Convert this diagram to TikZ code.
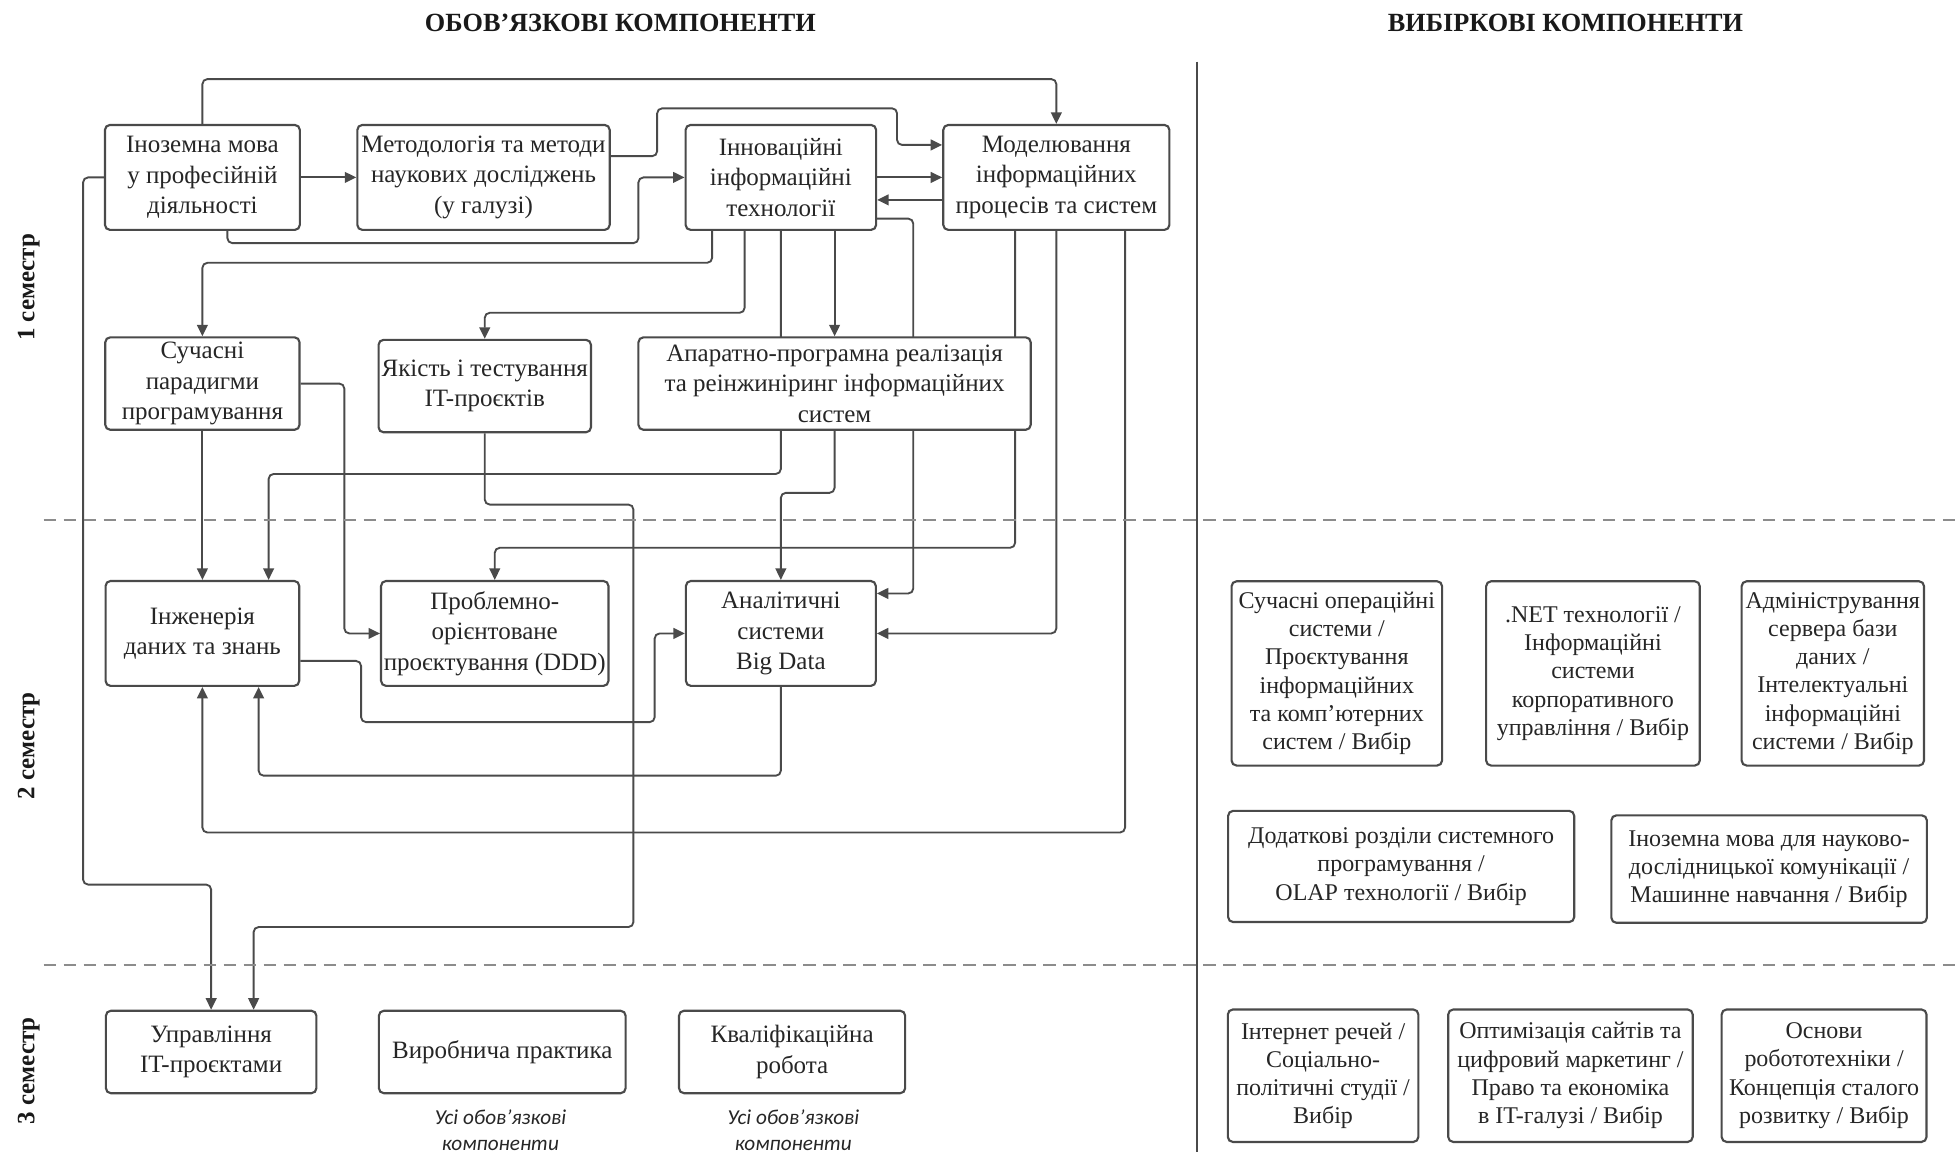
\documentclass[tikz,border=0pt]{standalone}
\usepackage{fontspec}
\setmainfont{Liberation Serif}
\newfontfamily\notefont{Carlito}
\usepackage{tikz}
\usetikzlibrary{arrows.meta,backgrounds}
\definecolor{linegray}{HTML}{4A4A4A}
\definecolor{dashgray}{HTML}{8C8C8C}

\begin{document}
\begin{tikzpicture}[x=.5pt, y=-.5pt,
		box/.style={draw=linegray, line width=.85pt, rounded corners=2pt, fill=white, align=center, inner sep=0pt, text=black!85, font=\fontsize{10}{12.2}\selectfont},
		optbox/.style={box, font=\fontsize{9.6}{11.3}\selectfont},
		arr/.style={draw=linegray, line width=.75pt, rounded corners=2pt, -{Triangle[length=4.6pt,width=4.3pt]}},
		sep/.style={draw=dashgray, line width=.8pt, dash pattern=on 5pt off 3pt},
		head/.style={text=black!90, font=\bfseries\fontsize{10.5}{12}\selectfont},
		sem/.style={rotate=90, text=black!90, font=\bfseries\fontsize{10}{12}\selectfont},
		note/.style={align=center, text=black!85, font=\notefont\itshape\fontsize{8.5}{10.5}\selectfont}]
	\useasboundingbox (0,0) rectangle (1568,922);
	\node[head] (head1) at (496.5,18) {ОБОВ’ЯЗКОВІ КОМПОНЕНТИ};
	\node[head] (head2) at (1253,18) {ВИБІРКОВІ КОМПОНЕНТИ};
	\node[sem] (sem1) at (23,230) {1 семестр};
	\node[sem] (sem2) at (23,597) {2 семестр};
	\node[sem] (sem3) at (23,857) {3 семестр};
	\foreach \y in {416,772.6} {
		\draw[sep] (35,\y) -- (1568,\y);
	}
	\draw[draw=linegray, line width=.75pt] (958.4,49.4) -- (958.4,922);
	
	\node[box, minimum width=78pt, minimum height=42pt] (inmova) at (162,142) {Іноземна мова\\у професійній\\діяльності};
	\node[box, minimum width=101pt, minimum height=42pt] (metod) at (387,142) {Методологія та методи\\наукових досліджень\\(у галузі)};
	\node[box, minimum width=76.25pt, minimum height=42pt] (innov) at (625,142) {Інноваційні\\інформаційні\\технології};
	\node[box, minimum width=90.5pt, minimum height=42pt] (model) at (845.5,142) {Моделювання\\інформаційних\\процесів та систем};
	\node[box, minimum width=77.75pt, minimum height=37pt] (parad) at (162,307) {Сучасні\\парадигми\\програмування};
	\node[box, minimum width=85pt, minimum height=37pt] (yakist) at (388,309) {Якість і тестування\\IT-проєктів};
	\node[box, minimum width=157pt, minimum height=37pt] (aparat) at (668,307) {Апаратно-програмна реалізація\\та реінжиніринг інформаційних\\систем};
	\node[box, minimum width=77.5pt, minimum height=42pt] (inzh) at (162,507) {Інженерія\\даних та знань};
	\node[box, minimum width=91pt, minimum height=42pt] (ddd) at (396,507) {Проблемно-\\орієнтоване\\проєктування (DDD)};
	\node[box, minimum width=76pt, minimum height=42pt] (bigdata) at (625,507) {Аналітичні\\системи\\Big Data};
	\node[box, minimum width=84.25pt, minimum height=33pt] (upr) at (169,842) {Управління\\IT-проєктами};
	\node[box, minimum width=98.75pt, minimum height=33pt] (prakt) at (402,842) {Виробнича практика};
	\node[box, minimum width=90.5pt, minimum height=33pt] (kvalif) at (634,842) {Кваліфікаційна\\робота};
	\node[note] (note1) at (400.5,904.5) {Усі обов’язкові\\компоненти};
	\node[note] (note2) at (635,904.5) {Усі обов’язкові\\компоненти};
	
	\node[optbox, minimum width=84.25pt, minimum height=73.75pt] (opt1) at (1070,539) {Сучасні операційні\\системи /\\Проєктування\\інформаційних\\та комп’ютерних\\систем / Вибір};
	\node[optbox, minimum width=85.5pt, minimum height=73.75pt] (opt2) at (1275,539) {.NET технології /\\Інформаційні\\системи\\корпоративного\\управління / Вибір};
	\node[optbox, minimum width=73pt, minimum height=73.75pt] (opt3) at (1467,539) {Адміністрування\\сервера бази\\даних /\\Інтелектуальні\\інформаційні\\системи / Вибір};
	\node[optbox, minimum width=138.5pt, minimum height=44.5pt] (opt4) at (1121.5,693.5) {Додаткові розділи системного\\програмування /\\OLAP технології / Вибір};
	\node[optbox, minimum width=126.25pt, minimum height=43pt] (opt5) at (1416,695.6) {Іноземна мова для науково-\\дослідницької комунікації /\\Машинне навчання / Вибір};
	\node[optbox, minimum width=76.25pt, minimum height=53pt] (opt6) at (1059,861) {Інтернет речей /\\Соціально-\\політичні студії /\\Вибір};
	\node[optbox, minimum width=97.85pt, minimum height=53pt] (opt7) at (1257,861) {Оптимізація сайтів та\\цифровий маркетинг /\\Право та економіка\\в IT-галузі / Вибір};
	\node[optbox, minimum width=82pt, minimum height=53pt] (opt8) at (1460,861) {Основи\\робототехніки /\\Концепція сталого\\розвитку / Вибір};
	
	\begin{scope}[on background layer]
		\draw[arr] (inmova.north) |- (845.5,63.3) -- (model.north);
		\draw[arr] (inmova.east) -- (metod.west);
		\draw[arr] ([yshift=8.5pt]metod.east) -| (526,86.7) -| (718,116) -- ([yshift=13pt]model.west);
		\draw[arr] ([xshift=10pt]inmova.south) |- (511,194.6) |- (innov.west);
		\draw[arr] (innov.east) -- (model.west);
		\draw[arr] ([yshift=-9pt]model.west) -- ([yshift=-9pt]innov.east);
		\draw[arr] ([xshift=-27.5pt]innov.south) -- ++(0,25.5) -| (parad.north);
		\draw[arr] ([xshift=-14.5pt]innov.south) -- ++(0,65.5) -| (yakist.north);
		\draw[arr] (innov.south) -- ++(0,194.5) -| ([xshift=26.5pt]inzh.north);
		\draw[arr] ([xshift=21.5pt]innov.south) -- (aparat.north);
		\draw[arr] ([yshift=-16.5pt]innov.east) -| (731,475) -- ([yshift=16pt]bigdata.east);
		\draw[arr] (aparat.south) -- ++(0,49.6) -| (bigdata.north);
		\draw[arr] ([xshift=-16.5pt]model.south) -- ++(0,253.6) -| (ddd.north);
		\draw[arr] (model.south) |- (bigdata.east);
		\draw[arr] ([xshift=27.5pt]model.south) -- ++(0,481.5) -| (inzh.south);
		\draw[arr] (parad.east) -- ++(35,0) |- (ddd.west);
		\draw[arr] (parad.south) -- (inzh.north);
		\draw[arr] (yakist.south) -- ++(0,57) -| (507,742) -| ([xshift=17pt]upr.north);
		\draw[arr] (inmova.west) -| (66.5,708) -| (upr.north);
		\draw[arr] ([yshift=-11pt]inzh.east) -| (289,578) -| (524,507) -- (bigdata.west);
		\draw[arr] (bigdata.south) -- ++(0,71) -| ([xshift=22.5pt]inzh.south);
	\end{scope}
\end{tikzpicture}
\end{document}
